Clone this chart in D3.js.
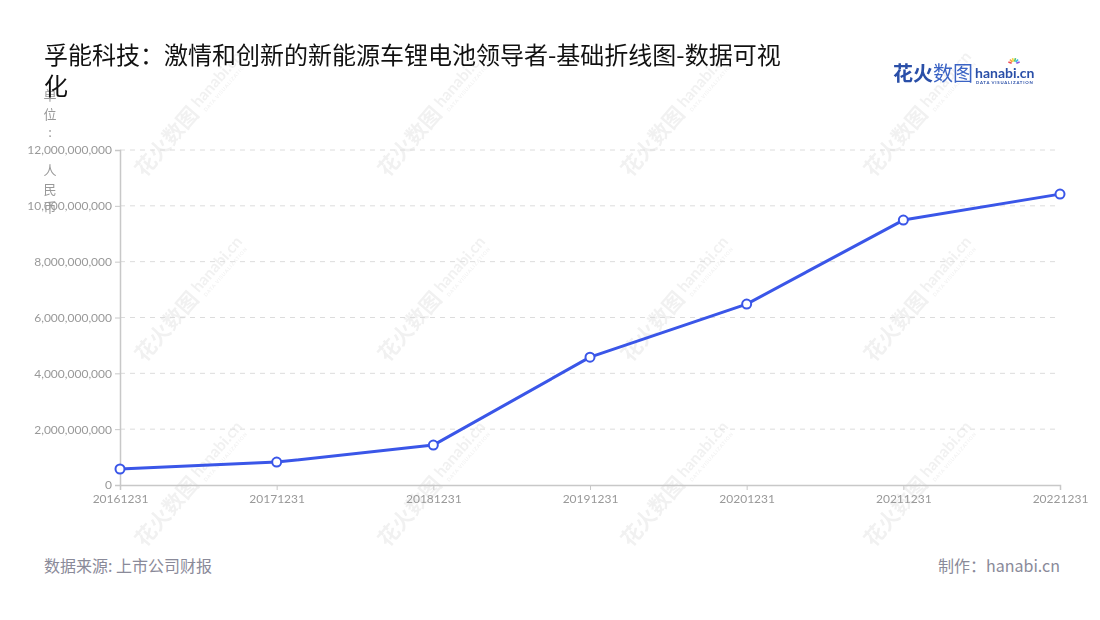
<!DOCTYPE html>
<html>
<head>
<meta charset="utf-8">
<script src="https://cdn.jsdelivr.net/npm/d3@7"></script>
<style>
  html, body { margin: 0; padding: 0; background: #fff; }
  svg { display: block; font-family: "Noto Sans CJK SC", "Noto Sans", sans-serif; }
</style>
</head>
<body>
<svg id="chart" width="1100" height="620"></svg>
<script>
// Annual revenue, RMB
const periods = ["20161231", "20171231", "20181231", "20191231", "20201231", "20211231", "20221231"];
const revenue = [573000000, 820000000, 1430000000, 4580000000, 6480000000, 9490000000, 10420000000];
const yTicks = [0, 2000000000, 4000000000, 6000000000, 8000000000, 10000000000, 12000000000];

const titleLines = ["孚能科技：激情和创新的新能源车锂电池领导者-基础折线图-数据可视", "化"];
const unitChars = ["单", "位", ":", " ", "人", "民", "币"];
const sourceText = "数据来源: 上市公司财报";
const creditText = "制作：hanabi.cn";

const svg = d3.select("#chart");
const margin = { left: 120, right: 1060, top: 150, bottom: 485 };

// Background watermarks
const wmCols = [182, 425, 668, 911];
const wmRows = [123, 308, 493];
const wm = svg.append("g").attr("class", "watermarks").attr("fill", "#000").attr("opacity", 0.055);
wmRows.forEach(cy => wmCols.forEach(cx => {
  const g = wm.append("g").attr("transform", `translate(${cx},${cy}) rotate(-49)`);
  g.append("text").attr("x", -66).attr("y", 8).attr("font-size", 21).attr("font-weight", 700).text("花火数图");
  g.append("text").attr("x", 22).attr("y", 3).attr("font-size", 16).attr("font-weight", 700)
    .attr("font-family", "Lato, sans-serif").text("hanabi.cn");
  g.append("text").attr("x", 24).attr("y", 11).attr("font-size", 5).attr("font-weight", 700)
    .attr("font-family", "Lato, sans-serif").attr("letter-spacing", 0.7).text("DATA VISUALIZATION");
}));

const x = d3.scalePoint().domain(periods).range([margin.left, margin.right]);
const y = d3.scaleLinear().domain([0, 12000000000]).range([margin.bottom, margin.top]);

// Horizontal dashed grid
svg.append("g").selectAll("line").data(yTicks.filter(d => d > 0)).join("line")
  .attr("x1", margin.left).attr("x2", margin.right)
  .attr("y1", d => y(d)).attr("y2", d => y(d))
  .attr("stroke", "#dcdcdc").attr("stroke-width", 1).attr("stroke-dasharray", "5,5");

// Y axis
const yAxis = svg.append("g").attr("transform", `translate(${margin.left},0)`)
  .call(d3.axisLeft(y).tickValues(yTicks).tickSize(5).tickPadding(3).tickFormat(d3.format(",")));
yAxis.select(".domain").attr("stroke", "#c8c8c8").attr("stroke-width", 1.5);
yAxis.selectAll(".tick line").attr("stroke", "#c8c8c8");
yAxis.selectAll(".tick text").attr("fill", "#999").attr("font-size", 12)
  .attr("font-family", "Lato, 'Noto Sans', sans-serif");

// X axis
const xAxis = svg.append("g").attr("transform", `translate(0,${margin.bottom})`)
  .call(d3.axisBottom(x).tickSize(5).tickPadding(4));
xAxis.select(".domain").attr("stroke", "#c8c8c8").attr("stroke-width", 1.5);
xAxis.selectAll(".tick line").attr("stroke", "#c8c8c8");
xAxis.selectAll(".tick text").attr("fill", "#999").attr("font-size", 12)
  .attr("font-family", "Lato, 'Noto Sans', sans-serif");

// Unit label, stacked vertically
svg.append("g").selectAll("text").data(unitChars).join("text")
  .attr("x", 50).attr("y", (d, i) => 100 + i * 18.7)
  .attr("text-anchor", "middle").attr("font-size", 13).attr("fill", "#999")
  .text(d => d);

// Revenue line
const line = d3.line().x((d, i) => x(periods[i])).y(d => y(d));
svg.append("path").datum(revenue)
  .attr("d", line).attr("fill", "none")
  .attr("stroke", "#3a56e8").attr("stroke-width", 3).attr("stroke-linejoin", "round");

svg.append("g").selectAll("circle").data(revenue).join("circle")
  .attr("cx", (d, i) => x(periods[i])).attr("cy", d => y(d)).attr("r", 4.5)
  .attr("fill", "#fff").attr("stroke", "#3a56e8").attr("stroke-width", 2);

// Title
svg.append("g").selectAll("text").data(titleLines).join("text")
  .attr("x", 44).attr("y", (d, i) => 64 + i * 31)
  .attr("font-size", 24).attr("fill", "#111").text(d => d);

// Logo
const logo = svg.append("g").attr("transform", "translate(893,81)");
logo.append("text").attr("font-size", 20).attr("font-weight", 700).attr("fill", "#2a4fa8").text("花火");
logo.append("text").attr("x", 40).attr("font-size", 20).attr("fill", "#3a63c4").text("数图");
logo.append("text").attr("x", 82).attr("y", -3).attr("font-size", 14).attr("font-weight", 700)
  .attr("font-family", "Lato, sans-serif").attr("fill", "#2a4fa8").text("hanabi.cn");
logo.append("text").attr("x", 83).attr("y", 3).attr("font-size", 4.3).attr("font-weight", 700)
  .attr("font-family", "Lato, sans-serif").attr("letter-spacing", 0.75).attr("fill", "#2a4fa8").text("DATA VISUALIZATION");
const sparkColors = ["#f04e5a", "#f7a33b", "#f5d33a", "#53c56b", "#3bb7e8", "#8d5ae0"];
sparkColors.forEach((c, i) => {
  const a = (-160 + i * 28) * Math.PI / 180;
  logo.append("line")
    .attr("x1", 121 + Math.cos(a) * 2.5).attr("y1", -17 + Math.sin(a) * 2.5)
    .attr("x2", 121 + Math.cos(a) * 6).attr("y2", -17 + Math.sin(a) * 6)
    .attr("stroke", c).attr("stroke-width", 1.6);
});

// Footer
svg.append("text").attr("x", 44).attr("y", 572).attr("font-size", 16).attr("fill", "#8a8a99").text(sourceText);
svg.append("text").attr("x", 1060).attr("y", 572).attr("text-anchor", "end")
  .attr("font-size", 16).attr("fill", "#8a8a99").text(creditText);
</script>
</body>
</html>
